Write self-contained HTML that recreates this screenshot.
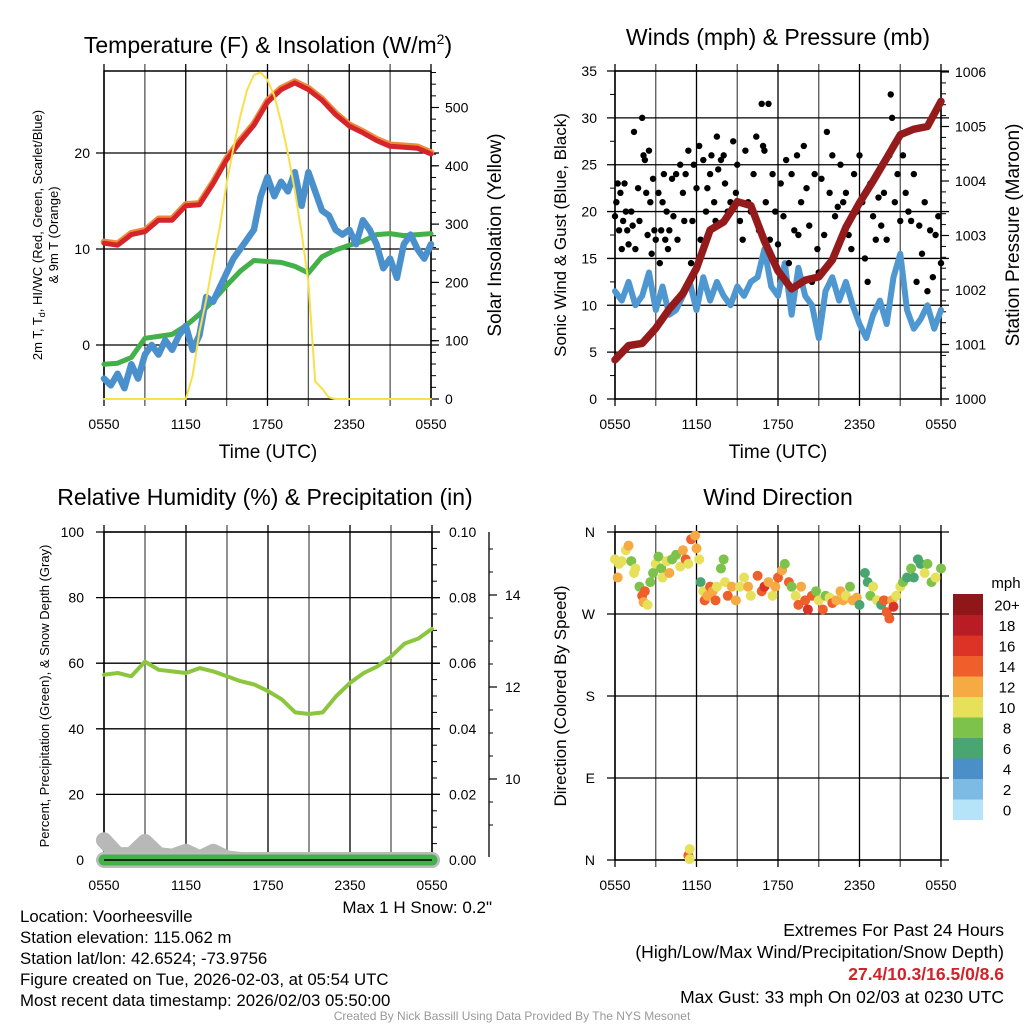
<!DOCTYPE html>
<html><head><meta charset="utf-8">
<style>
html,body{margin:0;padding:0;background:#fff;}
svg{display:block;font-family:"Liberation Sans",sans-serif;}
</style></head>
<body>
<svg id="chart" width="1024" height="1024" viewBox="0 0 1024 1024">
<g id="g1"></g>
<g id="g2"></g>
<g id="g3"></g>
<g id="g4"></g>
<g font-size="23" text-anchor="middle" fill="#000">
<text x="268" y="53">Temperature (F) &amp; Insolation (W/m<tspan dy="-9" font-size="14">2</tspan><tspan dy="9">)</tspan></text>
<text x="778" y="45">Winds (mph) &amp; Pressure (mb)</text>
<text x="265" y="505">Relative Humidity (%) &amp; Precipitation (in)</text>
<text x="778" y="505">Wind Direction</text>
</g>
<g fill="#000" text-anchor="middle">
<text x="268" y="458" font-size="19">Time (UTC)</text>
<text x="778" y="458" font-size="19">Time (UTC)</text>
<text transform="translate(42,235) rotate(-90)" font-size="13">2m T, T<tspan font-size="9" dy="3">d</tspan><tspan dy="-3">, HI/WC (Red, Green, Scarlet/Blue)</tspan></text>
<text transform="translate(58,235) rotate(-90)" font-size="13">&amp; 9m T (Orange)</text>
<text transform="translate(501,235) rotate(-90)" font-size="19">Solar Insolation (Yellow)</text>
<text transform="translate(566,235) rotate(-90)" font-size="17">Sonic Wind &amp; Gust (Blue, Black)</text>
<text transform="translate(1019,235) rotate(-90)" font-size="19">Station Pressure (Maroon)</text>
<text transform="translate(49,696) rotate(-90)" font-size="13">Percent, Precipitation (Green), &amp; Snow Depth (Gray)</text>
<text transform="translate(566,696) rotate(-90)" font-size="17">Direction (Colored By Speed)</text>
</g>
<g font-size="16.8" fill="#000">
<text x="492" y="913" text-anchor="end" font-size="17">Max 1 H Snow: 0.2"</text>
<text x="20" y="922">Location: Voorheesville</text>
<text x="20" y="943">Station elevation: 115.062 m</text>
<text x="20" y="964">Station lat/lon: 42.6524; -73.9756</text>
<text x="20" y="985">Figure created on Tue, 2026-02-03, at 05:54 UTC</text>
<text x="20" y="1006">Most recent data timestamp: 2026/02/03 05:50:00</text>
<g font-size="17.5">
<text x="1004" y="936" text-anchor="end">Extremes For Past 24 Hours</text>
<text x="1004" y="958" text-anchor="end">(High/Low/Max Wind/Precipitation/Snow Depth)</text>
<text x="1004" y="980" text-anchor="end" fill="#d0232a" font-weight="bold">27.4/10.3/16.5/0/8.6</text>
<text x="1004" y="1003" text-anchor="end">Max Gust: 33 mph On 02/03 at 0230 UTC</text>
</g>
<text x="512" y="1020" text-anchor="middle" font-size="12" fill="#999">Created By Nick Bassill Using Data Provided By The NYS Mesonet</text>
</g>
</svg>
<script>
// ---------- data ----------
const xTickLabels = ["0550","1150","1750","2350","0550"];
const hourly = [0,1,2,3,4,5,6,7,8,9,10,11,12,13,14,15,16,17,18,19,20,21,22,23,24];
const halfHourly = [0,0.5,1,1.5,2,2.5,3,3.5,4,4.5,5,5.5,6,6.5,7,7.5,8,8.5,9,9.5,10,10.5,11,11.5,12,12.5,13,13.5,14,14.5,15,15.5,16,16.5,17,17.5,18,18.5,19,19.5,20,20.5,21,21.5,22,22.5,23,23.5,24];
const tempF = [10.6,10.4,11.5,11.8,13.0,13.0,14.5,14.6,16.8,19.3,21.2,22.9,25.3,26.6,27.3,26.6,25.5,24.0,22.8,22.1,21.3,20.7,20.6,20.5,19.9];
const dewF = [-2.0,-1.9,-1.3,0.7,0.9,1.1,2.0,3.2,4.6,6.2,7.7,8.8,8.7,8.6,8.2,7.5,9.2,9.9,10.4,10.8,11.5,11.6,11.4,11.5,11.6];
const windChillF = [-3.5,-4.2,-3.0,-4.5,-2.0,-3.5,-1.0,0.0,-1.0,0.5,-0.5,1.0,2.0,-0.5,1.0,5.0,4.5,6.0,7.5,9.0,10.0,11.0,12.0,15.5,17.5,15.5,17.0,16.0,18.0,14.5,18.0,16.0,14.0,13.5,12.0,11.5,12.0,10.5,13.0,12.0,10.5,8.0,9.0,7.0,10.5,11.5,10.0,9.0,10.5];
const insolation = [0,0,0,0,0,0,0,0,0,0,0,0,0,40,115,170,235,295,370,430,485,530,556,560,547,520,475,421,358,285,200,30,18,3,0,0,0,0,0,0,0,0,0,0,0,0,0,0,0];
const tempTicks = [0,10,20];
const solarTicks = [0,100,200,300,400,500];
const windSpeed = [11.5,10.5,12.5,10.0,11.0,13.5,9.5,12.0,9.0,9.5,11.0,12.5,9.5,13.0,10.5,12.5,11.0,10.0,12.0,11.0,12.5,13.0,16.0,12.0,11.0,14.5,9.0,14.0,11.0,10.0,6.5,11.5,13.0,10.5,12.5,10.0,8.0,6.5,9.0,10.5,8.0,13.0,15.5,9.5,7.5,8.5,10.0,7.5,9.5];
const pressure = [1000.72,1000.98,1001.02,1001.3,1001.65,1001.94,1002.4,1003.1,1003.25,1003.62,1003.55,1002.9,1002.35,1002.02,1002.18,1002.24,1002.55,1003.15,1003.6,1004.0,1004.42,1004.85,1004.95,1005.0,1005.46];
const gusts = [[0.0,19.5],[0.1,21],[0.2,23],[0.3,18],[0.4,22],[0.5,16],[0.6,19],[0.7,23],[0.8,20],[0.9,18],[1.0,16.5],[1.2,20],[1.3,18.5],[1.4,28.5],[1.5,16],[1.7,22.5],[1.8,19],[2.0,30],[2.1,26],[2.2,25.5],[2.3,22],[2.4,17.5],[2.5,26.5],[2.6,21],[2.7,15.5],[2.8,23.5],[2.9,18],[3.0,17],[3.2,22],[3.3,14.5],[3.4,18],[3.5,21],[3.6,24],[3.7,17],[3.8,20],[3.9,16],[4.0,18],[4.2,23.5],[4.3,19.5],[4.5,24],[4.6,17],[4.8,25],[5.0,22],[5.1,19],[5.2,24],[5.4,26.5],[5.6,14.5],[5.7,19],[5.8,25],[6.0,22.5],[6.2,27],[6.3,17],[6.5,25.5],[6.7,20],[6.8,22.5],[7.0,24],[7.1,26],[7.3,21],[7.4,19],[7.5,28],[7.6,24.5],[7.8,25.5],[8.0,26],[8.1,23],[8.3,20],[8.5,21],[8.7,27.5],[8.9,22],[9.0,25],[9.2,19],[9.4,17],[9.6,26.5],[9.8,21],[10.0,20],[10.2,24],[10.4,28],[10.6,18],[10.8,31.5],[10.9,27],[11.0,26.5],[11.1,21],[11.3,31.5],[11.4,17],[11.6,24],[11.8,20],[12.0,16.5],[12.2,23],[12.4,19.5],[12.6,25.5],[12.8,14.5],[13.0,24],[13.2,18],[13.4,26],[13.5,17.5],[13.7,21],[13.9,27],[14.1,22.5],[14.3,18.5],[14.5,12.5],[14.7,24],[14.9,16],[15.0,13.5],[15.2,23.5],[15.4,17.5],[15.6,28.5],[15.8,22],[16.0,26],[16.2,19.5],[16.4,20.5],[16.6,25],[16.8,21],[17.0,22],[17.2,17.5],[17.4,16],[17.6,24],[17.8,20],[18.0,26],[18.2,21],[18.4,15],[18.6,12.5],[18.8,23],[19.0,19.5],[19.2,17],[19.4,21.5],[19.6,18.5],[19.8,22],[20.0,17],[20.2,26],[20.3,32.5],[20.4,30],[20.6,21],[20.8,24],[21.0,19],[21.2,26],[21.4,22],[21.6,20],[21.8,19],[22.0,24],[22.2,12.5],[22.4,18.5],[22.6,15.5],[22.8,21],[23.0,11.5],[23.2,18],[23.4,13],[23.6,17.5],[23.8,19.5],[24.0,14.5]];
const windTicks = [0,5,10,15,20,25,30,35];
const pressureTicks = [1000,1001,1002,1003,1004,1005,1006];
const rh = [56.5,57,56,60.5,58,57.5,57,58.5,57.5,56,54.5,53.5,51.5,49,45,44.5,45,50,54,57,59,62,66,67.5,70.5];
const precip = [0,0,0,0,0,0,0,0,0,0,0,0,0,0,0,0,0,0,0,0,0,0,0,0,0];
const snowBlob = [6,1.5,1.5,5.5,1.5,1,2.5,0.5,2.5,0.5,0,0,0,0,0,0,0,0,0,0,0,0,0,0,0];
const rhTicks = [0,20,40,60,80,100];
const precipTicks = ["0.00","0.02","0.04","0.06","0.08","0.10"];
const snowTicks = [10,12,14];
const dirLabels = ["N","E","S","W","N"];
const dirPoints = [[0.0,330,10],[0.2,310,12],[0.3,325,10],[0.5,328,10],[0.8,340,11],[1.0,345,12],[1.2,328,9],[1.4,315,10],[1.5,320,10],[1.8,300,8],[2.0,290,14],[2.1,283,12],[2.2,295,14],[2.4,280,10],[2.6,305,9],[2.8,315,8],[3.0,325,10],[3.2,333,9],[3.4,320,8],[3.5,310,10],[3.8,328,11],[4.0,315,12],[4.2,330,8],[4.5,335,8],[4.8,322,10],[5.0,340,12],[5.2,330,14],[5.4,325,10],[5.6,352,14],[5.9,356,12],[6.0,342,12],[6.2,330,10],[6.3,305,6],[6.5,295,10],[6.6,285,14],[6.8,290,12],[7.0,300,14],[7.2,295,12],[7.4,285,14],[7.5,300,11],[7.8,320,8],[8.0,330,8],[8.1,305,10],[8.3,290,14],[8.6,300,12],[8.9,285,12],[9.2,300,10],[9.5,310,10],[9.8,300,12],[10.0,290,10],[10.5,312,14],[10.8,295,14],[11.0,300,16],[11.3,305,12],[11.6,290,10],[11.8,300,12],[12.0,310,14],[12.3,318,12],[12.5,325,8],[12.8,305,14],[13.0,300,8],[13.3,290,10],[13.5,280,14],[13.7,300,12],[14.0,285,14],[14.2,275,16],[14.5,290,14],[14.8,295,8],[15.0,285,10],[15.3,275,14],[15.5,290,8],[15.8,288,10],[16.0,282,14],[16.3,285,12],[16.6,295,12],[16.8,285,12],[17.0,290,10],[17.3,300,8],[17.5,285,12],[17.8,288,12],[18.0,280,6],[18.4,315,6],[18.6,305,6],[18.8,290,8],[19.0,300,10],[19.3,285,10],[19.6,280,6],[19.8,285,14],[20.0,272,14],[20.2,265,14],[20.4,285,12],[20.5,278,16],[20.7,290,10],[21.0,300,10],[21.2,305,8],[21.5,310,6],[21.8,320,8],[22.0,310,6],[22.3,330,6],[22.5,325,6],[22.8,315,10],[23.0,325,8],[23.3,305,8],[23.6,310,10],[24.0,320,8],[5.4,5,14],[5.5,12,10],[5.5,1,10]];
const speedBands = ["0","2","4","6","8","10","12","14","16","18","20+"];
const bandColors = ["#b5e3f8","#7dbbe5","#4a8fc8","#4aa670","#7dc24a","#e6e05a","#f6aa44","#ef5f2b","#dc3327","#b91c24","#8f1619"];

// ---------- helpers ----------
const NS="http://www.w3.org/2000/svg";
function mk(parent,tag,attrs){const e=document.createElementNS(NS,tag);for(const k in attrs)e.setAttribute(k,attrs[k]);parent.appendChild(e);return e;}
function lin(d0,d1,r0,r1){return v=>r0+(v-d0)*(r1-r0)/(d1-d0);}
function poly(g,xs,ys,fx,fy,stroke,w,name){
  const pts=xs.map((x,i)=>fx(x).toFixed(1)+","+fy(ys[i]).toFixed(1)).join(" ");
  const p=mk(g,"polyline",{points:pts,fill:"none",stroke:stroke,"stroke-width":w,"stroke-linejoin":"round","stroke-linecap":"round"});
  
  
  return p;
}
function txt(g,x,y,s,size,anchor,name){
  const t=mk(g,"text",{x:x,y:y,"font-size":size,"text-anchor":anchor,fill:"#000"});t.textContent=s;
  
  
  return t;
}
function frame(g,L,T,R,B,hLines,fy){
  const fx=lin(0,24,L,R);
  for(let h=0;h<=24;h+=3){
    const l=mk(g,"line",{x1:fx(h),x2:fx(h),y1:T-7,y2:B+7,stroke:h%6==0?"#000":"#555","stroke-width":1.3});
    
    
  }
  hLines.forEach(v=>{
    const l=mk(g,"line",{x1:L-8,x2:R+8,y1:fy(v),y2:fy(v),stroke:"#000","stroke-width":1.3});
    
    
  });
  const r=mk(g,"rect",{x:L,y:T,width:R-L,height:B-T,fill:"none",stroke:"#000","stroke-width":1.5});
  
  
  return fx;
}
function xLabels(g,fx,y){
  xTickLabels.forEach((s,i)=>txt(g,fx(i*6),y,s,14,"middle","x-tick-label"));
}
function rightMinor(g,R,fy,v0,v1,step){
  for(let v=v0;v<=v1+1e-9;v+=step){
    const l=mk(g,"line",{x1:R,x2:R+5,y1:fy(v),y2:fy(v),stroke:"#000","stroke-width":1});
    
    
  }
}

// ---------- panel 1 ----------
(function(){
  const g=document.getElementById("g1");
  const L=104,R=431,T=71,B=399;
  const fy=lin(0,10,345,249);
  const fs=lin(0,500,399,107.5);
  const fx=frame(g,L,T,R,B,tempTicks,fy);
  tempTicks.forEach(v=>txt(g,L-14,fy(v)+5,String(v),14,"end","temp-tick-label"));
  solarTicks.forEach(v=>{txt(g,R+14,fs(v)+5,String(v),14,"start","solar-tick-label");
    const l=mk(g,"line",{x1:R,x2:R+8,y1:fs(v),y2:fs(v),stroke:"#000","stroke-width":1.2});
    
    });
  rightMinor(g,R,fs,0,560,20);
  xLabels(g,fx,429);
  poly(g,hourly,dewF,fx,fy,"#43b04a",5,"dewpoint-line");
  poly(g,halfHourly,windChillF,fx,fy,"#4a90cc",6.5,"windchill-line");
  poly(g,hourly,tempF.map(v=>v+0.15),fx,fy,"#f08a3a",6.5,"9m-temp-line");
  poly(g,hourly,tempF,fx,fy,"#d5252a",5,"2m-temp-line");
  poly(g,halfHourly,insolation,fx,fs,"#f7e04a",2,"insolation-line");
})();

// ---------- panel 2 ----------
(function(){
  const g=document.getElementById("g2");
  const L=615,R=941,T=71,B=399;
  const fy=lin(0,35,399,71);
  const fp=lin(1000,1006,399,72);
  const fx=frame(g,L,T,R,B,windTicks,fy);
  windTicks.forEach(v=>txt(g,L-18,fy(v)+5,String(v),14,"end","wind-tick-label"));
  pressureTicks.forEach(v=>{txt(g,R+14,fp(v)+5,String(v),14,"start","pressure-tick-label");
    const l=mk(g,"line",{x1:R,x2:R+8,y1:fp(v),y2:fp(v),stroke:"#000","stroke-width":1.2});
    
    });
  rightMinor(g,R,fp,1000,1006,0.2);
  for(let v=2.5;v<35;v+=5){const l=mk(g,"line",{x1:L-5,x2:L,y1:fy(v),y2:fy(v),stroke:"#000"});
    
    }
  xLabels(g,fx,429);
  poly(g,halfHourly,windSpeed,fx,fy,"#4f97d0",6,"sonic-wind-line");
  gusts.forEach(p=>{const c=mk(g,"circle",{cx:fx(p[0]),cy:fy(p[1]),r:3.2,fill:"#000"});
    
    });
  poly(g,hourly,pressure,fx,fp,"#951a1c",7.5,"pressure-line");
})();

// ---------- panel 3 ----------
(function(){
  const g=document.getElementById("g3");
  const L=104,R=432,T=532,B=860;
  const fy=lin(0,100,860,532);
  const fx=frame(g,L,T,R,B,rhTicks,fy);
  rhTicks.forEach(v=>txt(g,L-20,fy(v)+5,String(v),14,"end","rh-tick-label"));
  precipTicks.forEach((s,i)=>{const y=fy(i*20);txt(g,R+17,y+5,s,14,"start","precip-tick-label");
    const l=mk(g,"line",{x1:R,x2:R+8,y1:y,y2:y,stroke:"#000","stroke-width":1.2});
    
    });
  rightMinor(g,R,fy,0,100,5);
  const ax=mk(g,"line",{x1:489,x2:489,y1:532,y2:857,stroke:"#000","stroke-width":1.3});
  
  
  const fsn=lin(10,12,779,687);
  snowTicks.forEach(v=>{txt(g,505,fsn(v)+5,String(v),14,"start","snow-tick-label");
    const l=mk(g,"line",{x1:489,x2:497,y1:fsn(v),y2:fsn(v),stroke:"#000","stroke-width":1.2});
    
    });
  for(let v=9;v<=15.5;v+=0.5){const y=fsn(v);if(y<535||y>855)continue;const l=mk(g,"line",{x1:489,x2:493,y1:y,y2:y,stroke:"#000"});
    
    }
  xLabels(g,fx,890);
  poly(g,hourly,snowBlob,fx,fy,"#b8b8b8",16,"snow-depth-line");
  poly(g,hourly,precip,fx,fy,"#bbbbbb",16,"precip-halo");
  poly(g,hourly,precip,fx,fy,"#43b04a",11,"precip-line");
  const base=mk(g,"line",{x1:L,x2:R,y1:B,y2:B,stroke:"#000","stroke-width":1.5});
  
  
  poly(g,hourly,rh,fx,fy,"#8cc63f",4,"rh-line");
})();

// ---------- panel 4 ----------
(function(){
  const g=document.getElementById("g4");
  const L=615,R=941,T=532,B=860;
  const fy=lin(0,360,860,532);
  const fx=frame(g,L,T,R,B,[0,90,180,270,360],fy);
  dirLabels.forEach((s,i)=>txt(g,L-20,fy(i*90)+5,s,14,"end","direction-tick-label"));
  xLabels(g,fx,890);
  dirPoints.forEach(p=>{
    const bi=Math.min(10,Math.max(0,Math.floor(p[2]/2)));
    const c=mk(g,"circle",{cx:fx(p[0]),cy:fy(p[1]),r:5,fill:bandColors[bi]});
    
    
  });
  const lg=mk(g,"g",{});
  
  
  txt(lg,1006,588,"mph",15,"middle","colorbar-title");
  const top=594,bh=20.5;
  speedBands.forEach((s,i)=>{
    const y=top+(10-i)*bh;
    const r=mk(lg,"rect",{x:953,y:y,width:30,height:bh+0.5,fill:bandColors[i]});
    
    
    txt(lg,1007,y+bh/2+6,s,15,"middle","colorbar-label");
  });
})();
</script>
</body></html>
